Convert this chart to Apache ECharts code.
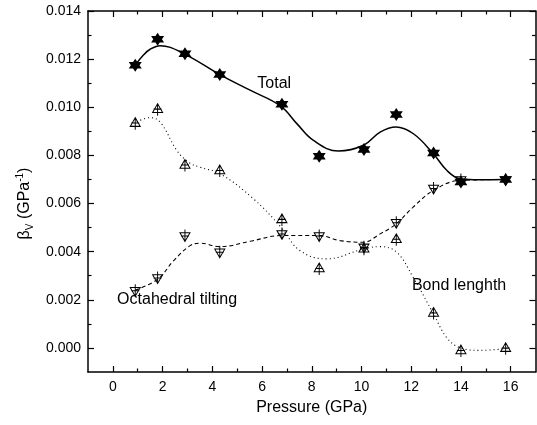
<!DOCTYPE html>
<html>
<head>
<meta charset="utf-8">
<script src="https://cdn.jsdelivr.net/npm/echarts@6/dist/echarts.min.js"></script>
<style>
html,body{margin:0;padding:0;background:#fff;}
#c{width:537px;height:425px;}
</style>
</head>
<body>
<div id="c"></div>
<script>
// ---- data ----
var pressure = [0.9, 1.8, 2.9, 4.3, 6.8, 8.3, 10.1, 11.4, 12.9, 14.0, 15.8];
var totalVals = [0.01175, 0.01283, 0.01222, 0.01136, 0.01013, 0.00796, 0.00824, 0.0097, 0.0081, 0.00689, 0.0070];
var octaVals  = [0.0024, 0.00293, 0.00467, 0.0040, 0.00476, 0.00467, 0.0042, 0.00522, 0.00665, 0.0070, 0.0070];
var bondVals  = [0.00932, 0.0099, 0.00758, 0.00735, 0.00532, 0.00328, 0.0041, 0.00449, 0.00143, -0.00013, -0.00003];

// fitted curves
var totalCurveX = [0.9, 1.23, 1.5, 1.9, 2.9, 4.3, 5.52, 6.75, 7.4, 8.07, 9.07, 10.08, 10.75, 11.39, 12.09, 12.89, 13.43, 13.96, 14.77, 15.8];
var totalCurveY = [0.01175, 0.01217, 0.01241, 0.01256, 0.0122, 0.01136, 0.01071, 0.01005, 0.00932, 0.00862, 0.00818, 0.00842, 0.00897, 0.00918, 0.0089, 0.00807, 0.00738, 0.00703, 0.00699, 0.0070];
var octaCurveX = [0.9, 1.81, 2.44, 3.11, 3.51, 4.31, 5.52, 6.77, 8.3, 9.14, 10.07, 10.75, 11.39, 12.08, 12.89, 13.96, 15.8];
var octaCurveY = [0.0024, 0.00286, 0.00362, 0.00425, 0.00435, 0.00421, 0.00443, 0.00467, 0.00467, 0.00446, 0.00439, 0.00474, 0.00515, 0.00585, 0.00654, 0.00696, 0.0070];
var bondCurveX = [0.96, 1.5, 1.9, 2.57, 3.04, 3.51, 4.31, 5.65, 6.77, 7.53, 8.6, 10.07, 10.75, 11.42, 12.08, 12.89, 13.43, 13.96, 14.77, 15.8];
var bondCurveY = [0.00939, 0.00957, 0.00939, 0.00821, 0.00772, 0.00751, 0.00724, 0.0062, 0.00501, 0.00404, 0.0037, 0.00411, 0.00421, 0.00397, 0.00293, 0.00143, 0.00043, 0.00001, -0.0001, -0.00003];

// annotations
var annotTexts = ['Total', 'Octahedral tilting', 'Bond lenghth'];
var annotX = [6.49, 0.17, 12.03];
var annotY = [0.0110, 0.00202, 0.0026];

// axis ticks
var xMajor = [0, 2, 4, 6, 8, 10, 12, 14, 16];
var xMinor = [1, 3, 5, 7, 9, 11, 13, 15];
var yMajor = [0, 0.002, 0.004, 0.006, 0.008, 0.010, 0.012, 0.014];
var yMinor = [0.001, 0.003, 0.005, 0.007, 0.009, 0.011, 0.013];

function zip(a, b) { return a.map(function (v, i) { return [v, b[i]]; }); }

var FONT = 'Liberation Sans, Arial, sans-serif';
var STAR = 'path://M0,-10 L2.887,-5 L8.66,-5 L5.774,0 L8.66,5 L2.887,5 L0,10 L-2.887,5 L-8.66,5 L-5.774,0 L-8.66,-5 L-2.887,-5 Z';
var TRI_UP = 'path://M0,-5 L5,3 L-5,3 Z M0,-5 L0,6 M-4,0 L4,0';
var TRI_DN = 'path://M0,5 L5,-3 L-5,-3 Z M0,5 L0,-6 M-4,0 L4,0';

var lineStyleAxis = { color: '#000', width: 1.5 };

function xAx(pos, custom, len, showLine, showLabel, name) {
  var a = {
    type: 'value', position: pos, min: -1, max: 17,
    axisLine: { show: showLine, onZero: false, lineStyle: lineStyleAxis },
    axisTick: { show: true, inside: true, length: len, customValues: custom, lineStyle: { color: '#000', width: 1.2 } },
    axisLabel: { show: showLabel, customValues: custom, margin: 8, color: '#000', fontSize: 14, fontFamily: FONT },
    splitLine: { show: false }
  };
  if (name) {
    a.name = name; a.nameLocation = 'middle'; a.nameGap = 28;
    a.nameTextStyle = { color: '#000', fontSize: 16, fontFamily: FONT };
  }
  return a;
}
function yAx(pos, custom, len, showLine, showLabel, withName) {
  var a = {
    type: 'value', position: pos, min: -0.001, max: 0.014,
    axisLine: { show: showLine, onZero: false, lineStyle: lineStyleAxis },
    axisTick: { show: true, inside: true, length: len, customValues: custom, lineStyle: { color: '#000', width: 1.2 } },
    axisLabel: { show: showLabel, customValues: custom, margin: 7, color: '#000', fontSize: 14, fontFamily: FONT,
      formatter: function (v) { return v.toFixed(3); } },
    splitLine: { show: false }
  };
  if (withName) {
    a.name = '{b|β}{s|V}{b| (GPa}{p|-1}{b|)}';
    a.nameLocation = 'middle'; a.nameRotate = 90; a.nameGap = 47;
    a.nameTextStyle = {
      color: '#000', fontFamily: FONT, padding: [0, 24, 0, 0],
      rich: {
        b: { fontSize: 16, lineHeight: 20, fontFamily: FONT, color: '#000' },
        s: { fontSize: 10, lineHeight: 10, verticalAlign: 'bottom', fontFamily: FONT, color: '#000' },
        p: { fontSize: 10, lineHeight: 10, verticalAlign: 'top', fontFamily: FONT, color: '#000' }
      }
    };
  }
  return a;
}

var chart = echarts.init(document.getElementById('c'), null, { renderer: 'canvas' });
chart.setOption({
  backgroundColor: '#fff',
  animation: false,
  textStyle: { fontFamily: FONT },
  grid: { left: 88, right: 1.5, top: 11, bottom: 53 },
  xAxis: [
    xAx('bottom', xMajor, 6, true, true, 'Pressure (GPa)'),
    xAx('bottom', xMinor, 3.5, false, false),
    xAx('top', xMajor, 6, true, false),
    xAx('top', xMinor, 3.5, false, false)
  ],
  yAxis: [
    yAx('left', yMajor, 6, true, true, true),
    yAx('left', yMinor, 3.5, false, false),
    yAx('right', yMajor, 6, true, false),
    yAx('right', yMinor, 3.5, false, false)
  ],
  series: [
    { type: 'line', data: zip(totalCurveX, totalCurveY), smooth: 0.4, symbol: 'none',
      lineStyle: { color: '#000', width: 1.5 }, z: 2 },
    { type: 'line', data: zip(octaCurveX, octaCurveY), smooth: 0.4, symbol: 'none',
      lineStyle: { color: '#000', width: 1.1, type: [4, 3] }, z: 2 },
    { type: 'line', data: zip(bondCurveX, bondCurveY), smooth: 0.4, symbol: 'none',
      lineStyle: { color: '#000', width: 1.1, type: [1, 3] }, z: 2 },
    { type: 'scatter', data: zip(pressure, bondVals), symbol: TRI_UP, symbolSize: [11, 12], symbolKeepAspect: true,
      itemStyle: { color: 'rgba(0,0,0,0)', borderColor: '#000', borderWidth: 1, opacity: 1 }, z: 3 },
    { type: 'scatter', data: zip(pressure, octaVals), symbol: TRI_DN, symbolSize: [11, 12], symbolKeepAspect: true,
      itemStyle: { color: 'rgba(0,0,0,0)', borderColor: '#000', borderWidth: 1, opacity: 1 }, z: 3 },
    { type: 'scatter', data: zip(pressure, totalVals), symbol: STAR, symbolSize: 13,
      itemStyle: { color: '#000', opacity: 1 }, z: 4 },
    { type: 'scatter', symbolSize: 0, z: 5, itemStyle: { opacity: 1 },
      data: annotTexts.map(function (t, i) {
        return { value: [annotX[i], annotY[i]],
          label: { show: true, formatter: t, position: i === 0 ? 'inside' : 'right', distance: 0,
            color: '#000', opacity: 1, fontSize: 16, fontFamily: FONT } };
      }) }
  ]
});
</script>
</body>
</html>
